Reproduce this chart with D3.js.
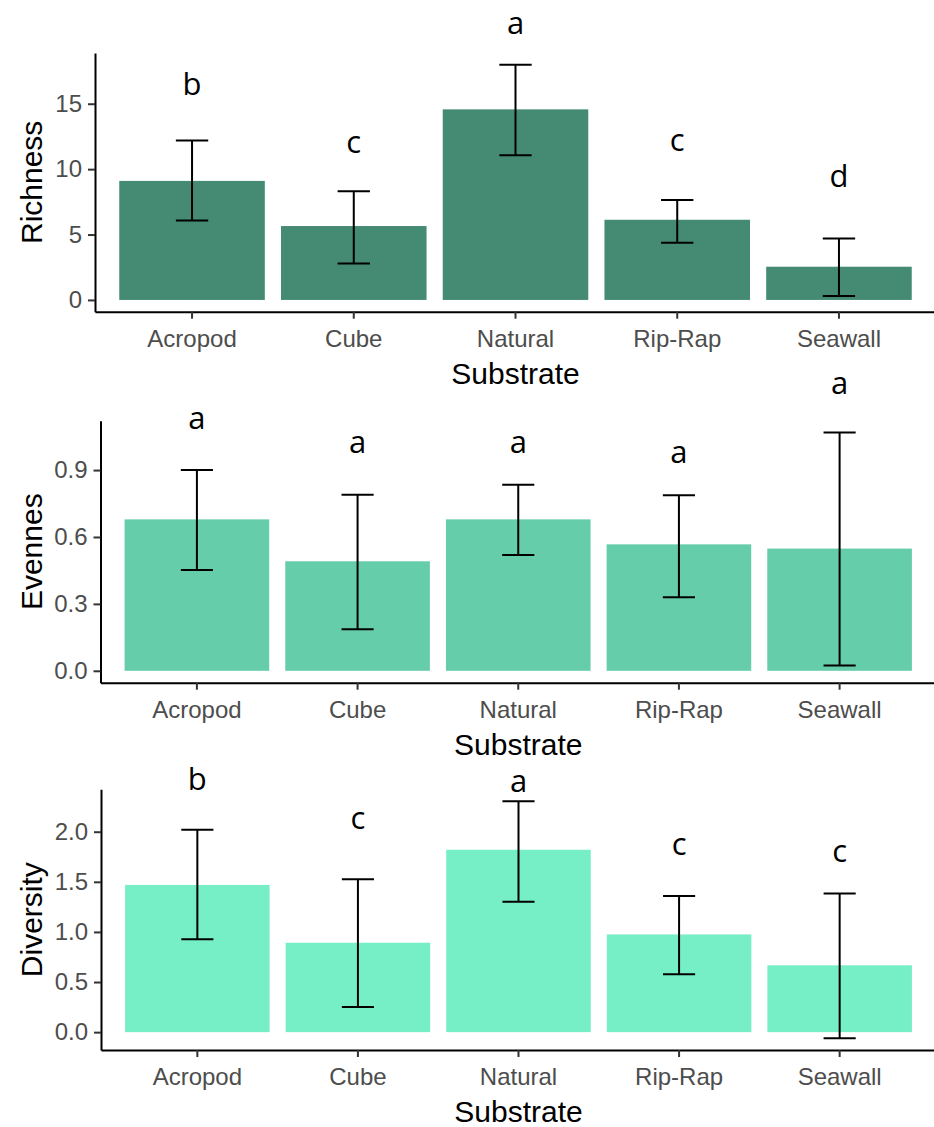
<!DOCTYPE html>
<html lang="en">
<head>
    <meta charset="UTF-8">
    <title>Richness, Evenness and Diversity by Substrate</title>
    <script src="https://d3js.org/d3.v7.min.js"></script>
    <style>
        body {
            margin: 0;
            background: #fff;
        }
        .tick text {
            font-family: "Liberation Sans", Arial, sans-serif;
            font-size: 24px;
            fill: #4d4d4d;
        }
        .axis-title {
            font-family: "Liberation Sans", Arial, sans-serif;
            font-size: 30px;
            fill: #000;
        }
        .group-letter {
            font-family: "Open Sans", sans-serif;
            font-size: 31px;
            fill: #000;
            text-anchor: middle;
        }
    </style>
</head>
<body>
    <div id="chart"></div>

    <script>
        const width = 934;
        const height = 1127;

        // data (bar = mean, lo/hi = error bar ends)
        const categories = ["Acropod", "Cube", "Natural", "Rip-Rap", "Seawall"];

        const richness = [9.1, 5.65, 14.57, 6.13, 2.54];
        const richnessLo = [6.08, 2.79, 11.07, 4.38, 0.3];
        const richnessHi = [12.19, 8.31, 17.98, 7.65, 4.69];
        const richnessLetters = ["b", "c", "a", "c", "d"];
        const richnessLetterAt = [16.3, 11.9, 21.0, 12.05, 9.25];
        const richnessTicks = [0, 5, 10, 15];

        const evenness = [0.679, 0.491, 0.679, 0.567, 0.548];
        const evennessLo = [0.4525, 0.186, 0.519, 0.33, 0.024];
        const evennessHi = [0.9, 0.789, 0.834, 0.787, 1.068];
        const evennessLetters = ["a", "a", "a", "a", "a"];
        const evennessLetterAt = [1.12, 1.015, 1.015, 0.97, 1.279];
        const evennessTicks = [0, 0.3, 0.6, 0.9];

        const diversity = [1.469, 0.892, 1.82, 0.975, 0.667];
        const diversityLo = [0.928, 0.25, 1.3, 0.577, -0.06];
        const diversityHi = [2.02, 1.526, 2.305, 1.359, 1.383];
        const diversityLetters = ["b", "c", "a", "c", "c"];
        const diversityLetterAt = [2.498, 2.11, 2.478, 1.847, 1.777];
        const diversityTicks = [0, 0.5, 1, 1.5, 2];

        const panels = [
            { label: "Richness", mean: richness, lo: richnessLo, hi: richnessHi,
              letters: richnessLetters, letterAt: richnessLetterAt, ticks: richnessTicks,
              fmt: d3.format("d"), color: "#458B74", top: 53, bottom: 311.7, left: 95 },
            { label: "Evennes", mean: evenness, lo: evennessLo, hi: evennessHi,
              letters: evennessLetters, letterAt: evennessLetterAt, ticks: evennessTicks,
              fmt: d3.format(".1f"), color: "#66CDAA", top: 420.7, bottom: 682.7, left: 100.5 },
            { label: "Diversity", mean: diversity, lo: diversityLo, hi: diversityHi,
              letters: diversityLetters, letterAt: diversityLetterAt, ticks: diversityTicks,
              fmt: d3.format(".1f"), color: "#76EEC6", top: 789.3, bottom: 1050, left: 101 }
        ];
        const right = 936;

        const svg = d3.select("#chart")
            .append("svg")
            .attr("width", width)
            .attr("height", height);

        svg.append("rect").attr("width", width).attr("height", height).attr("fill", "#fff");

        panels.forEach(p => {
            const rows = categories.map((c, i) => ({
                cat: c, mean: p.mean[i], lo: p.lo[i], hi: p.hi[i],
                letter: p.letters[i], letterAt: p.letterAt[i]
            }));

            // ggplot-style 5% expansion, bars start at 0
            const yMin = Math.min(0, d3.min(p.lo));
            const yMax = Math.max(d3.max(p.hi), d3.max(p.mean));
            const pad = (yMax - yMin) * 0.05;

            const x = d3.scaleBand()
                .domain(categories)
                .range([p.left, right])
                .paddingInner(0.1)
                .paddingOuter(0.15);

            const y = d3.scaleLinear()
                .domain([yMin - pad, yMax + pad])
                .range([p.bottom, p.top]);

            const g = svg.append("g");

            // bars
            g.selectAll(".bar")
                .data(rows)
                .enter()
                .append("rect")
                .attr("class", "bar")
                .attr("x", d => x(d.cat))
                .attr("width", x.bandwidth())
                .attr("y", d => y(d.mean))
                .attr("height", d => y(0) - y(d.mean))
                .attr("fill", p.color);

            // error bars
            const capW = x.step() * 0.2;
            const eb = g.selectAll(".err")
                .data(rows)
                .enter()
                .append("g")
                .attr("class", "err")
                .attr("stroke", "#000")
                .attr("stroke-width", 2);

            eb.append("line")
                .attr("x1", d => x(d.cat) + x.bandwidth() / 2)
                .attr("x2", d => x(d.cat) + x.bandwidth() / 2)
                .attr("y1", d => y(d.lo))
                .attr("y2", d => y(d.hi));
            eb.append("line")
                .attr("x1", d => x(d.cat) + x.bandwidth() / 2 - capW / 2)
                .attr("x2", d => x(d.cat) + x.bandwidth() / 2 + capW / 2)
                .attr("y1", d => y(d.hi))
                .attr("y2", d => y(d.hi));
            eb.append("line")
                .attr("x1", d => x(d.cat) + x.bandwidth() / 2 - capW / 2)
                .attr("x2", d => x(d.cat) + x.bandwidth() / 2 + capW / 2)
                .attr("y1", d => y(d.lo))
                .attr("y2", d => y(d.lo));

            // significance letters
            g.selectAll(".group-letter")
                .data(rows)
                .enter()
                .append("text")
                .attr("class", "group-letter")
                .attr("x", d => x(d.cat) + x.bandwidth() / 2)
                .attr("y", d => y(d.letterAt))
                .attr("dy", "0.27em")
                .text(d => d.letter);

            // axes
            const yAxis = g.append("g")
                .attr("transform", `translate(${p.left},0)`)
                .call(d3.axisLeft(y).tickValues(p.ticks).tickFormat(p.fmt)
                    .tickSize(7).tickSizeOuter(0).tickPadding(6));

            const xAxis = g.append("g")
                .attr("transform", `translate(0,${p.bottom})`)
                .call(d3.axisBottom(x).tickSize(7).tickSizeOuter(0).tickPadding(6));

            [yAxis, xAxis].forEach(a => {
                a.select(".domain").attr("stroke", "#000").attr("stroke-width", 2);
                a.selectAll(".tick line").attr("stroke", "#333").attr("stroke-width", 2);
                a.selectAll(".tick text").attr("font-size", null).attr("font-family", null).attr("fill", null);
            });
            xAxis.selectAll(".tick text").attr("dy", null).attr("y", 35);

            // axis titles
            g.append("text")
                .attr("class", "axis-title")
                .attr("text-anchor", "middle")
                .attr("x", (p.left + right) / 2)
                .attr("y", p.bottom + 72)
                .text("Substrate");

            g.append("text")
                .attr("class", "axis-title")
                .attr("text-anchor", "middle")
                .attr("transform", `translate(41.7,${(p.top + p.bottom) / 2}) rotate(-90)`)
                .text(p.label);
        });
    </script>
</body>
</html>
